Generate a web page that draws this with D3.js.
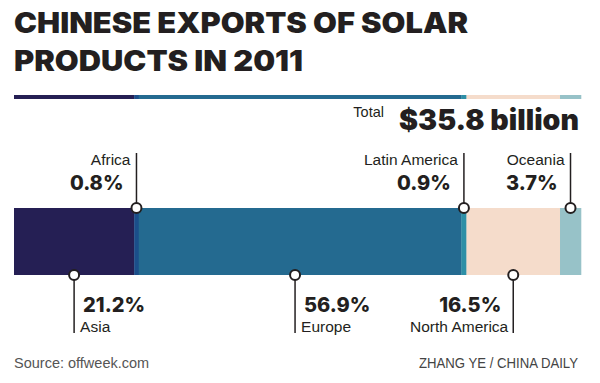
<!DOCTYPE html>
<html><head><meta charset="utf-8">
<script src="https://cdn.jsdelivr.net/npm/d3@7"></script>
<style>body{margin:0;background:#fff}svg{display:block}</style>
</head><body>
<script>
const regions = ["Asia","Africa","Europe","Latin America","North America","Oceania"];
const shares = [21.2,0.8,56.9,0.9,16.5,3.7];
const colors = ["#251f54","#1b4e8a","#246a90","#2d8fa6","#f5dccb","#97c2c8"];
const totalLabel = "$35.8 billion";
const titleLines = ["CHINESE EXPORTS OF SOLAR","PRODUCTS IN 2011"];

// label layout: side (top/bottom), marker shift
const layout = {
  "Asia":{side:"bottom",anchor:"start",shift:0},
  "Africa":{side:"top",anchor:"end",shift:0},
  "Europe":{side:"bottom",anchor:"start",shift:-5},
  "Latin America":{side:"top",anchor:"end",shift:0},
  "North America":{side:"bottom",anchor:"end",shift:0},
  "Oceania":{side:"top",anchor:"end",shift:0}
};
const titleWidths=[454,289];

const W=600,H=383;
const svg=d3.select("body").append("svg").attr("width",W).attr("height",H);
const heavy="Inter, 'Open Sans', sans-serif";
const light="'Liberation Sans', Arial, sans-serif";

svg.selectAll("text.title").data(titleLines).join("text")
  .attr("x",14).attr("y",(d,i)=>33+i*38)
  .attr("font-family",heavy).attr("font-weight",900).attr("font-size",28)
  .attr("textLength",(d,i)=>titleWidths[i]).attr("lengthAdjust","spacingAndGlyphs")
  .attr("fill","#231f20").text(d=>d);

let acc=0;
const data=regions.map((r,i)=>{const o={r,v:shares[i],c:colors[i],x0:acc};acc+=shares[i];o.x1=acc;return o;});
const x=d3.scaleLinear().domain([0,d3.sum(shares)]).range([14,581]);

// thin bar
svg.selectAll("rect.thin").data(data).join("rect")
  .attr("x",d=>x(d.x0)).attr("width",d=>x(d.x1)-x(d.x0)+0.3)
  .attr("y",95).attr("height",4).attr("fill",d=>d.c);

// total
svg.append("text").attr("x",579).attr("y",130).attr("text-anchor","end")
  .attr("font-family",heavy).attr("font-weight",900).attr("font-size",28)
  .attr("textLength",180).attr("lengthAdjust","spacingAndGlyphs")
  .attr("fill","#231f20").text(totalLabel);
svg.append("text").attr("x",384).attr("y",117).attr("text-anchor","end")
  .attr("font-family",light).attr("font-size",14.5).attr("fill","#231f20").text("Total");

// main bar
const y0=208,y1=275;
svg.selectAll("rect.seg").data(data).join("rect")
  .attr("x",d=>x(d.x0)).attr("width",d=>x(d.x1)-x(d.x0)+0.3)
  .attr("y",y0).attr("height",y1-y0).attr("fill",d=>d.c);

const fmt=d3.format(".1f");
data.forEach(d=>{
  const L=layout[d.r];
  const cx=(x(d.x0)+x(d.x1))/2+L.shift;
  const top=L.side==="top";
  const cy=top?y0:y1;
  const lineEnd=top?153:333;
  svg.append("line").attr("x1",cx).attr("x2",cx).attr("y1",cy).attr("y2",lineEnd)
    .attr("stroke","#231f20").attr("stroke-width",1.5);
  svg.append("circle").attr("cx",cx).attr("cy",cy).attr("r",5)
    .attr("fill","#fff").attr("stroke","#231f20").attr("stroke-width",2);
  const pct=svg.append("text").attr("text-anchor",L.anchor)
    .attr("font-family",heavy).attr("font-weight",800).attr("font-size",20)
    .attr("fill","#231f20").text(fmt(d.v)+"%");
  const name=svg.append("text").attr("text-anchor",L.anchor)
    .attr("font-family",light).attr("font-size",15.5).attr("fill","#231f20").text(d.r);
  if(top){
    name.attr("x",cx-6).attr("y",165);
    pct.attr("x",cx-13).attr("y",190);
  }else if(L.anchor==="start"){
    pct.attr("x",cx+9).attr("y",312);
    name.attr("x",cx+6).attr("y",332);
  }else{
    pct.attr("x",cx-12).attr("y",312);
    name.attr("x",cx-5).attr("y",332);
  }
});

svg.append("text").attr("x",14).attr("y",368)
  .attr("font-family",light).attr("font-size",14.5).attr("fill","#555").text("Source: offweek.com");
svg.append("text").attr("x",578).attr("y",368).attr("text-anchor","end")
  .attr("font-family",light).attr("font-size",14.5).attr("fill","#444")
  .attr("textLength",159).attr("lengthAdjust","spacingAndGlyphs").text("ZHANG YE / CHINA DAILY");
</script>
</body></html>
